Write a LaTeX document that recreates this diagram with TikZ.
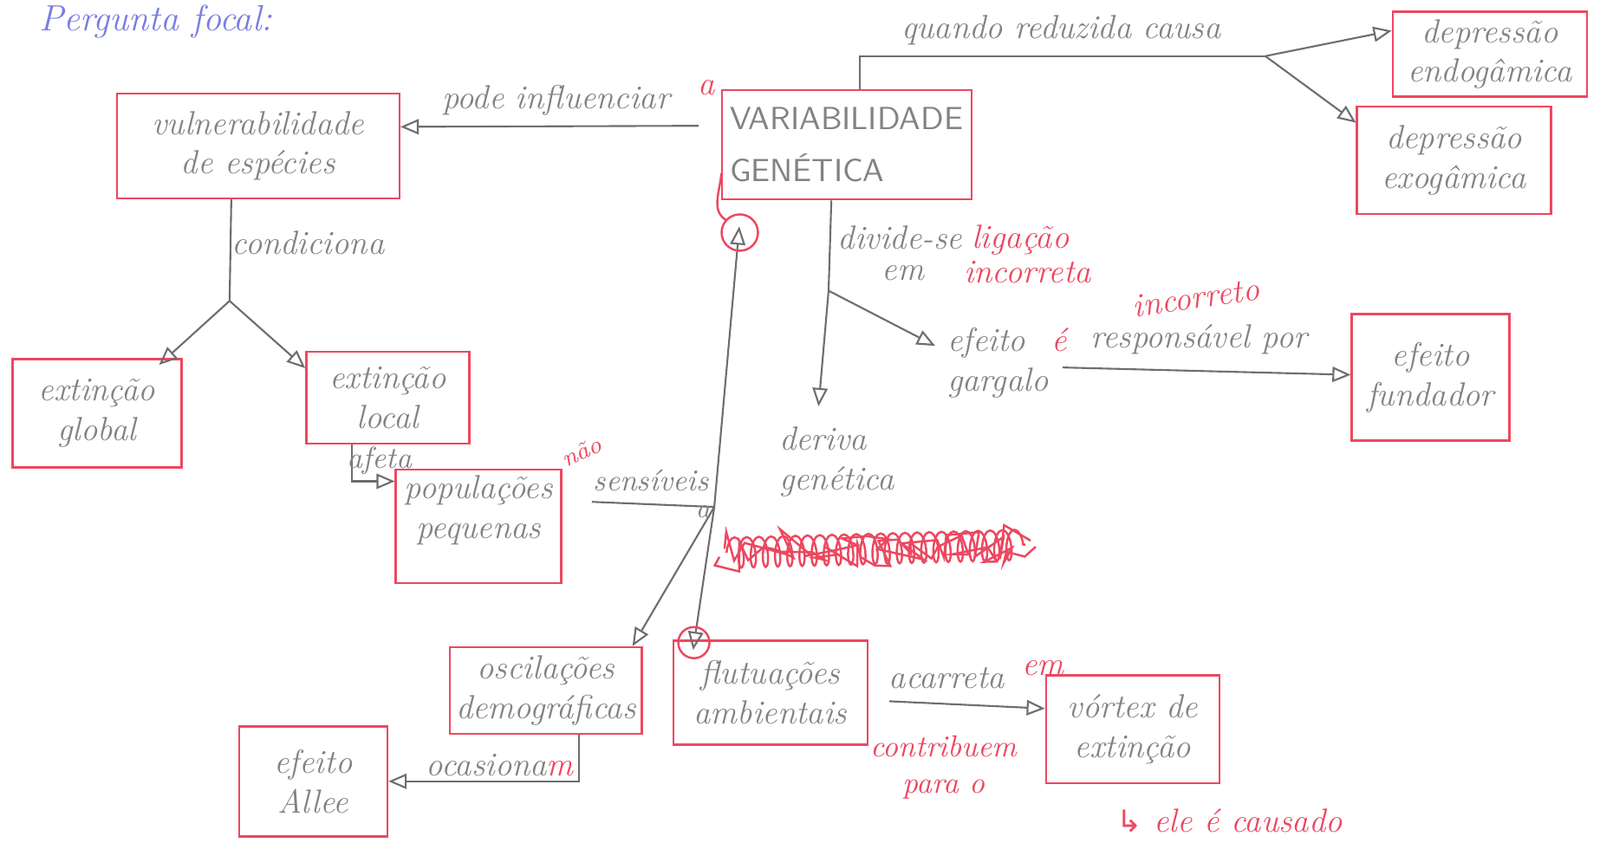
\documentclass[tikz,border=0pt]{standalone}
\usepackage{fontspec}
\newfontfamily\dejavu{DejaVu Sans}
\usetikzlibrary{arrows.meta,decorations.pathmorphing,calc}
\definecolor{hred}{RGB}{236,72,96}
\definecolor{pencil}{RGB}{130,130,130}
\definecolor{lead}{RGB}{110,110,110}
\definecolor{hblue}{RGB}{120,125,225}
\newcommand{\hand}{\itshape\fontsize{11}{13}\selectfont}
\tikzset{
  box/.style={draw=hred, line width=0.7pt, align=center, font=\hand, text=pencil, inner sep=2pt},
  lbl/.style={font=\hand, text=pencil, inner sep=1pt},
  rlbl/.style={font=\hand, text=hred, inner sep=1pt},
  conn/.style={draw=lead, line width=0.6pt},
  arr/.style={conn, -{Triangle[open, length=6pt, width=5pt]}},
  redline/.style={draw=hred, line width=0.7pt},
}
\begin{document}
\begin{tikzpicture}[x=0.011773cm, y=-0.011773cm]
\useasboundingbox[fill=white] (0,0) rectangle (1568,826);

% heading (only partly legible in the reference)
\node[font=\itshape\fontsize{12}{13}\selectfont, text=hblue, anchor=north west, inner sep=1pt] (head) at (35,1) {Pergunta focal:};

% boxes
\node[box, minimum width=3.26cm, minimum height=1.21cm] (vul) at (253,143) {vulnerabilidade\\de espécies};
\node[box, minimum width=2.88cm, text width=2.7cm, minimum height=1.26cm, font=\sffamily\fontsize{10.5}{17}\selectfont, align=left] (var) at (830,142) {VARIABILIDADE\\GENÉTICA};
\node[box, minimum width=2.24cm, minimum height=0.98cm] (endo) at (1460,53) {depressão\\endogâmica};
\node[box, minimum width=2.24cm, minimum height=1.24cm] (exo) at (1425,157) {depressão\\exogâmica};
\node[box, minimum width=1.95cm, minimum height=1.25cm] (eglob) at (95,405) {extinção\\global};
\node[box, minimum width=1.88cm, minimum height=1.06cm] (eloc) at (380,390) {extinção\\local};
\node[box, minimum width=1.91cm, minimum height=1.26cm, text depth=0.45cm] (pop) at (469,516) {populações\\pequenas};
\node[box, minimum width=1.82cm, minimum height=1.46cm] (fund) at (1402,370) {efeito\\fundador};
\node[box, minimum width=1.88cm, minimum height=1.00cm] (osc) at (535,677) {oscilações\\demográficas};
\node[box, minimum width=2.24cm, minimum height=1.20cm] (flu) at (755,679) {flutuações\\ambientais};
\node[box, minimum width=2.00cm, minimum height=1.25cm] (vor) at (1110,715) {vórtex de\\extinção};
\node[box, minimum width=1.71cm, minimum height=1.27cm] (allee) at (307,766) {efeito\\Allee};

% unboxed concepts
\node[lbl, align=left] (der) at (820,453) {deriva\\genética};
\node[lbl, align=left] (garg) at (978,356) {efeito\\gargalo};

% junctions
\coordinate (J1) at (1240,55);
\coordinate (J2) at (225,295);
\coordinate (J3) at (700,497);
\coordinate (J4) at (812,285);
\coordinate (S3) at (580,492);

% quando reduzida causa
\draw[conn] ([xshift=0.15cm]var.north) |- (J1);
\draw[arr] (J1) -- ([yshift=0.27cm]endo.west);
\draw[arr] (J1) -- ([yshift=-0.2cm]exo.north west);
\node[lbl] (lq) at (1040,30) {quando reduzida causa};

% pode influenciar
\draw[arr] ([xshift=-0.26cm,yshift=0.22cm]var.west) -- ([yshift=0.22cm]vul.east);
\node[lbl] (lp) at (545,98) {pode influenciar};
\node[rlbl] (lpa) at (692,86) {a};

% condiciona
\draw[conn] ([xshift=-0.31cm]vul.south) -- (J2);
\draw[arr] (J2) -- ([xshift=-0.27cm,yshift=-0.08cm]eglob.north east);
\draw[arr] (J2) -- ([yshift=-0.2cm]eloc.north west);
\node[lbl] (lc) at (302,238) {condiciona};

% afeta
\draw[arr] ([xshift=-0.41cm]eloc.south) |- ([yshift=0.52cm]pop.west);
\node[lbl, font=\itshape\fontsize{10}{12}\selectfont] (la) at (372,452) {afeta};

% sensiveis a
\draw[conn] (S3) -- (J3);
\node[lbl, font=\itshape\fontsize{10}{12}\selectfont] (ls) at (638,471) {sensíveis};
\node[lbl, font=\itshape\fontsize{9}{10}\selectfont] (lsa) at (689,502) {a};
\node[rlbl, rotate=25, font=\itshape\fontsize{8}{9}\selectfont] (lnao) at (570,443) {não};
\draw[arr] (J3) -- ([xshift=0.21cm,yshift=-0.3cm]var.south west);
\draw[arr] (J3) -- ([xshift=0.24cm,yshift=-0.12cm]flu.north west);
\draw[arr] (J3) -- ([xshift=-0.12cm]osc.north east);

% red marks on the circled arrowheads
\coordinate (c1) at (725,228);
\coordinate (c2) at (680,630);
\draw[redline] (c1) circle[radius=0.21cm];
\draw[redline] (c2) circle[radius=0.18cm];
\draw[redline] (707,170) to[out=-95,in=150] (712,216);

% divide-se em
\draw[arr] ([xshift=-0.18cm]var.south) -- (J4) -- ([xshift=-0.21cm,yshift=0.2cm]der.north);
\draw[arr] (J4) -- ([xshift=-0.1cm,yshift=0.2cm]garg.west);
\node[lbl] (ld) at (882,233) {divide-se};
\node[lbl] (lde) at (885,268) {em};
\node[rlbl] (lli) at (1000,235) {ligação};
\node[rlbl] (lin) at (1007,267) {incorreta};

% efeito gargalo -> efeito fundador
\draw[arr] ([xshift=0.12cm,yshift=-0.05cm]garg.east) -- ([yshift=0.03cm]fund.west);
\node[rlbl] (le) at (1038,333) {é};
\node[lbl] (lr) at (1175,333) {responsável por};
\node[rlbl, rotate=8] (linc) at (1172,292) {incorreto};

% acarreta
\draw[arr] ([xshift=0.24cm,yshift=-0.1cm]flu.east) -- ([yshift=0.24cm]vor.west);
\node[lbl] (lac) at (928,665) {acarreta};
\node[rlbl] (lem) at (1022,655) {em};
\node[rlbl, align=center, font=\itshape\fontsize{10}{12}\selectfont] (lcp) at (925,752) {contribuem\\para o};
\node[rlbl] (lcau) at (1205,805) {{\dejavu\fontsize{10}{12}\selectfont ↳} ele é causado};

% ocasionam
\draw[arr] ([xshift=0.38cm]osc.south) |- (allee.east);
\node[lbl] (lo) at (490,750) {ocasiona\textcolor{hred}{m}};

% red scribble (crossed-out text)
\draw[redline, decorate, decoration={coil, aspect=0.35, segment length=4pt, amplitude=5pt}] (712,542) -- (1005,534);
\draw[redline, decorate, decoration={random steps, segment length=3pt, amplitude=5pt}] (705,546) -- (1015,536);
\draw[redline, decorate, decoration={random steps, segment length=4pt, amplitude=6pt}] (710,538) -- (1010,530);
\end{tikzpicture}
\end{document}
